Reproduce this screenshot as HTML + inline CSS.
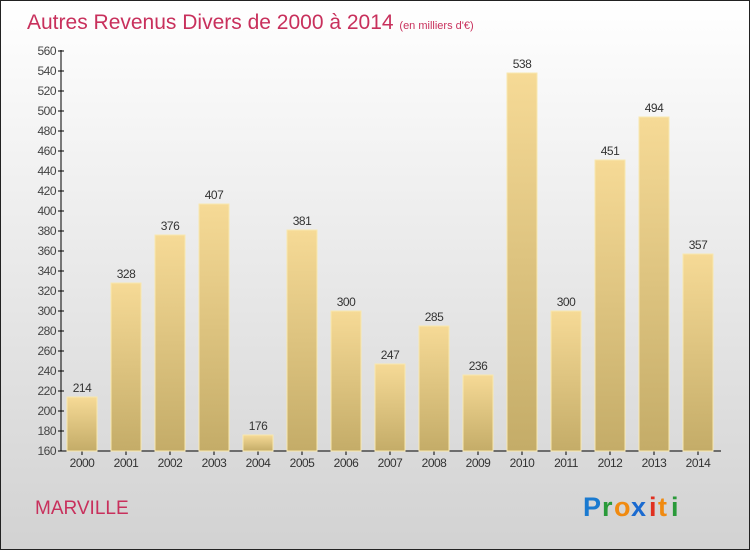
<!DOCTYPE html>
<html><head><meta charset="utf-8"><style>
body{margin:0}
#c{position:relative;width:748px;height:548px;border:1px solid #222;background:linear-gradient(#ffffff,#d2d2d2);font-family:"Liberation Sans",sans-serif;overflow:hidden}
</style></head><body>
<div id="c">
<svg width="748" height="548">
<defs><linearGradient id="g" x1="0" y1="0" x2="0" y2="1"><stop offset="0" stop-color="#f6da96"/><stop offset="1" stop-color="#c4ac68"/></linearGradient></defs>
<text x="26" y="28" font-size="21" fill="#c8305c">Autres Revenus Divers de 2000 à 2014 <tspan font-size="11">(en milliers d'€)</tspan></text>
<g id="ax"></g><g id="bars"></g>
<text x="34" y="513" font-size="19" fill="#c8305c">MARVILLE</text>
<g font-size="27" font-weight="bold">
<text x="582" y="515" fill="#1a7ad0">P</text><text x="601" y="515" fill="#2a9a3a">r</text><text x="613" y="515" fill="#f08a10">o</text><text x="630" y="515" fill="#1a6ad0">x</text><text x="648" y="515" fill="#e03020">i</text><text x="657" y="515" fill="#f08a10">t</text><text x="670" y="515" fill="#2a9a3a">i</text>
</g>
</svg></div>
<script>
const categories=["2000","2001","2002","2003","2004","2005","2006","2007","2008","2009","2010","2011","2012","2013","2014"];
const values=[214,328,376,407,176,381,300,247,285,236,538,300,451,494,357];
const yTicks=[160,180,200,220,240,260,280,300,320,340,360,380,400,420,440,460,480,500,520,540,560];
const NS="http://www.w3.org/2000/svg";
const y=v=>450-(v-160)*400/400;
const x=i=>81+i*44;
const ax=document.getElementById('ax'),bars=document.getElementById('bars');
function mk(t,a,p){const e=document.createElementNS(NS,t);for(const k in a)e.setAttribute(k,a[k]);p.appendChild(e);return e;}
let l=mk('line',{x1:60,y1:49,x2:60,y2:450,stroke:'#000'},ax);


l=mk('line',{x1:60,y1:450,x2:720,y2:450,stroke:'#000'},ax);


yTicks.forEach(v=>{mk('line',{x1:57,x2:63,y1:y(v),y2:y(v),stroke:'#000'},ax);
const t=mk('text',{x:55,y:y(v)+4,'text-anchor':'end','font-size':12,fill:'#444','letter-spacing':'-0.5'},ax);t.textContent=v;

});
categories.forEach((c,i)=>{const v=values[i];
const r=mk('rect',{x:x(i)-15,y:y(v),width:30,height:450-y(v),fill:'url(#g)',stroke:'#f8e8b0','stroke-width':1},bars);


const t=mk('text',{x:x(i),y:y(v)-5,'text-anchor':'middle','font-size':12,fill:'#333','letter-spacing':'-0.5'},bars);t.textContent=v;


mk('line',{x1:x(i),x2:x(i),y1:450,y2:454,stroke:'#000'},ax);
const tl=mk('text',{x:x(i),y:466,'text-anchor':'middle','font-size':12,fill:'#333','letter-spacing':'-0.5'},ax);tl.textContent=c;

});
</script></body></html>
